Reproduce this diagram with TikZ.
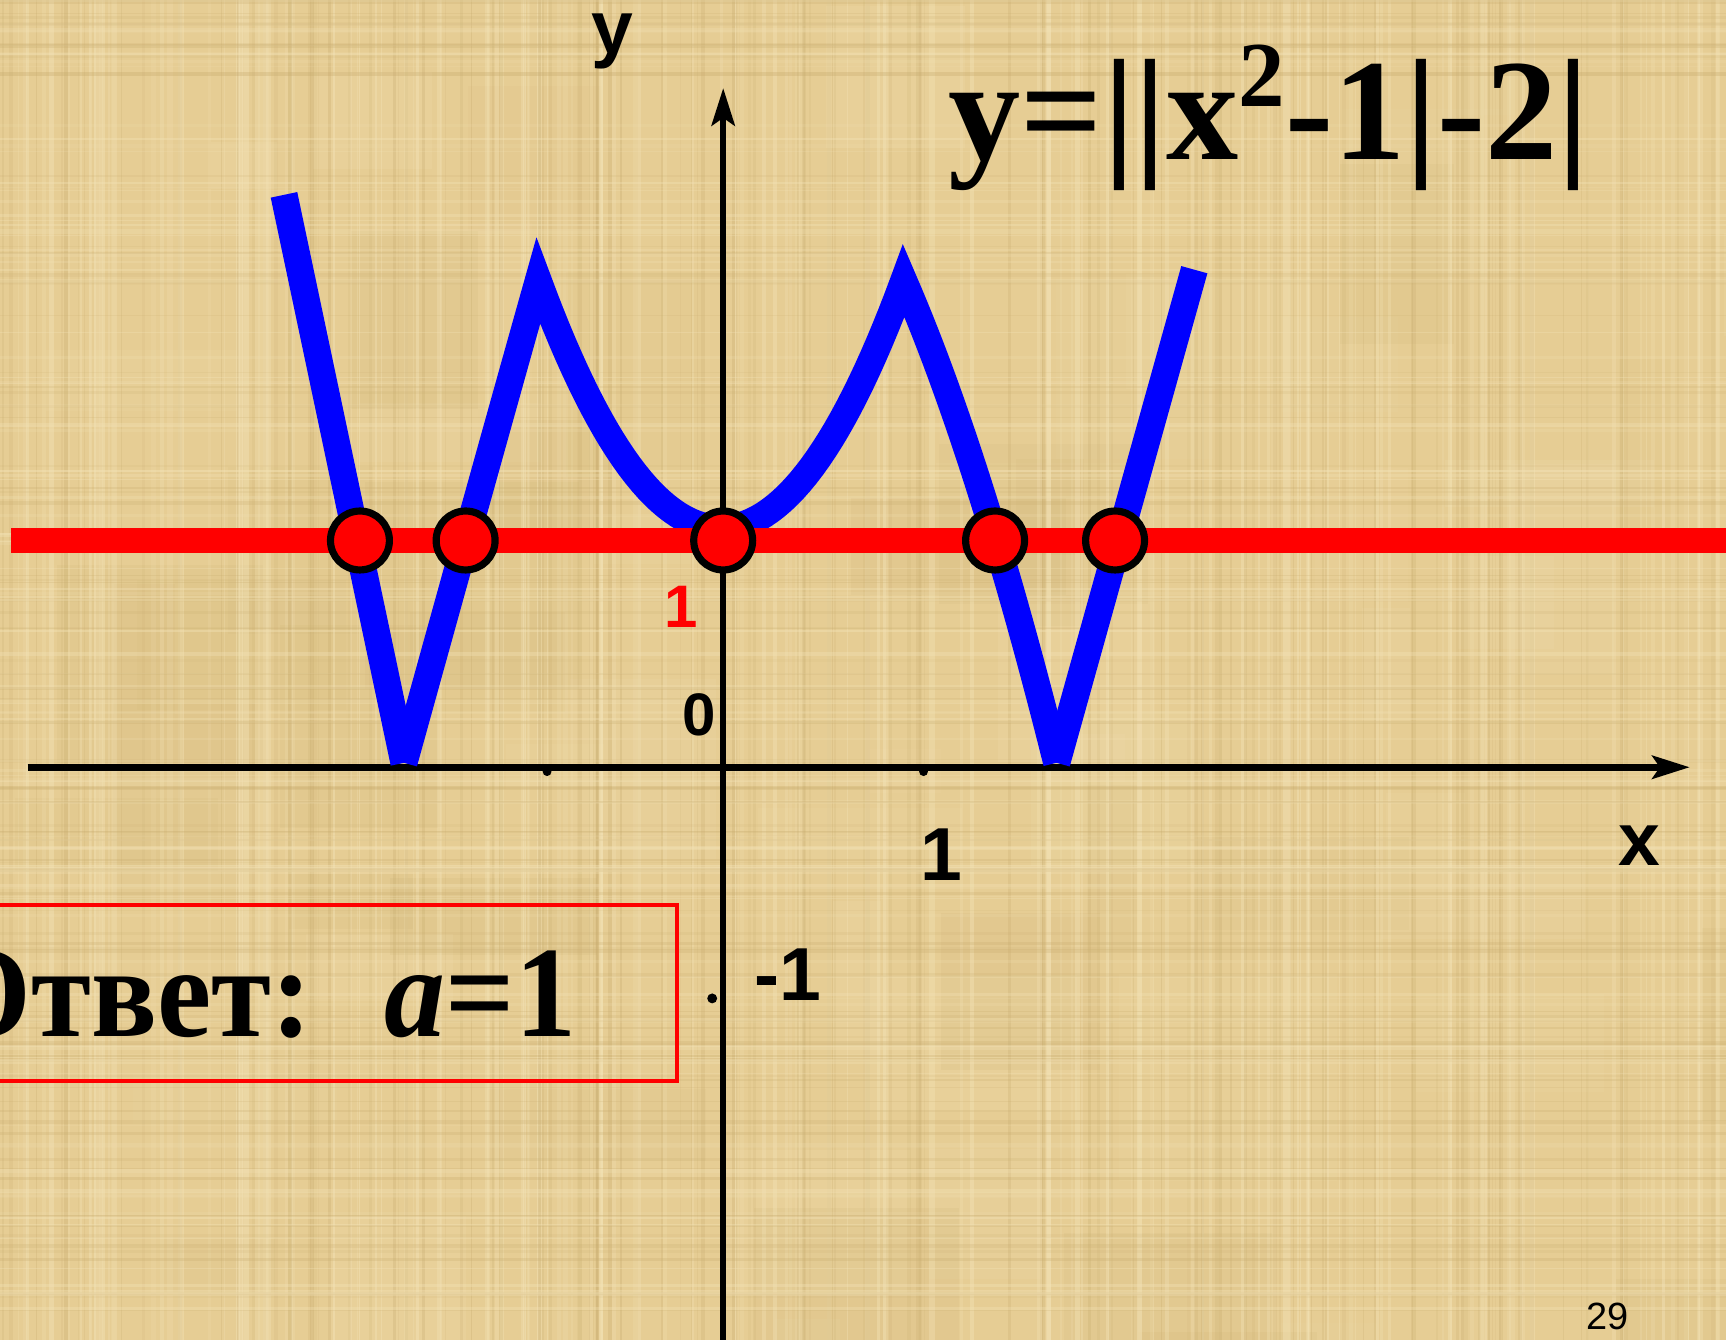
\documentclass[tikz,border=0pt]{standalone}
\usepackage{graphicx}
\usepackage{fontspec}
\setmainfont{Liberation Serif}
\newfontfamily\arialf{Liberation Sans}
\usetikzlibrary{arrows.meta}
\definecolor{parch}{RGB}{230,205,148}
\definecolor{parchL}{RGB}{244,228,184}
\definecolor{parchD}{RGB}{198,170,108}
\definecolor{pblue}{RGB}{0,0,255}
\definecolor{pred}{RGB}{255,0,0}
\tikzset{
  axisline/.style={line width=1.7pt, black},
  axisarrow/.style={-{Stealth[length=0.34cm, width=0.21cm, inset=0.07cm]}},
  bluecurve/.style={line width=7pt, pblue, line cap=butt},
  redline/.style={line width=6.3pt, pred, line cap=butt},
  ptc/.style={circle, fill=pred, draw=black, line width=1.85pt, minimum size=0.535cm, inner sep=0pt},
  lab/.style={inner sep=0pt, anchor=base, font=\arialf\bfseries\fontsize{19.4}{21}\selectfont},
  smalllab/.style={inner sep=0pt, anchor=base, font=\arialf\bfseries\fontsize{15.5}{17}\selectfont},
  tickdot/.style={fill=black}
}
\begin{document}
\begin{tikzpicture}[x=0.01cm, y=-0.01cm]
\useasboundingbox (0,0) rectangle (1568,1217);
\begin{scope}
\clip (0,0) rectangle (1568,1217);
% parchment background
\fill[parch] (0,0) rectangle (1568,1217);
\pgfmathsetseed{4242}
\foreach \i in {1,...,40}{
  \pgfmathsetmacro{\xa}{rnd*1568}
  \pgfmathsetmacro{\ya}{rnd*1217}
  \pgfmathsetmacro{\wa}{40+rnd*160}
  \pgfmathsetmacro{\ha}{40+rnd*160}
  \pgfmathsetmacro{\oa}{0.06+rnd*0.10}
  \fill[parchL, opacity=\oa] (\xa,\ya) rectangle ++(\wa,\ha);
}
\foreach \i in {1,...,30}{
  \pgfmathsetmacro{\xa}{rnd*1568}
  \pgfmathsetmacro{\ya}{rnd*1217}
  \pgfmathsetmacro{\wa}{40+rnd*160}
  \pgfmathsetmacro{\ha}{40+rnd*160}
  \pgfmathsetmacro{\oa}{0.05+rnd*0.08}
  \fill[parchD, opacity=\oa] (\xa,\ya) rectangle ++(\wa,\ha);
}
\foreach \i in {1,...,160}{
  \pgfmathsetmacro{\xx}{rnd*1568}
  \pgfmathsetmacro{\lw}{0.2+rnd*1.2}
  \pgfmathsetmacro{\op}{0.15+rnd*0.3}
  \draw[parchL, line width=\lw pt, opacity=\op] (\xx,0) -- (\xx,1217);
}
\foreach \i in {1,...,120}{
  \pgfmathsetmacro{\xx}{rnd*1568}
  \pgfmathsetmacro{\lw}{0.2+rnd*0.9}
  \pgfmathsetmacro{\op}{0.10+rnd*0.2}
  \draw[parchD, line width=\lw pt, opacity=\op] (\xx,0) -- (\xx,1217);
}
\foreach \i in {1,...,120}{
  \pgfmathsetmacro{\yy}{rnd*1217}
  \pgfmathsetmacro{\lw}{0.2+rnd*1.0}
  \pgfmathsetmacro{\op}{0.12+rnd*0.25}
  \draw[parchL, line width=\lw pt, opacity=\op] (0,\yy) -- (1568,\yy);
}
\foreach \i in {1,...,90}{
  \pgfmathsetmacro{\yy}{rnd*1217}
  \pgfmathsetmacro{\lw}{0.2+rnd*0.8}
  \pgfmathsetmacro{\op}{0.08+rnd*0.18}
  \draw[parchD, line width=\lw pt, opacity=\op] (0,\yy) -- (1568,\yy);
}

% axes
\coordinate (xs) at (25,697);
\coordinate (xe) at (1535,697);
\coordinate (ys) at (657,1230);
\coordinate (ye) at (657,80);
\draw[axisline, axisarrow] (xs) -- (xe);
\draw[axisline, axisarrow] (ys) -- (ye);
\fill[tickdot] (497,701) circle[radius=0.04cm];
\fill[tickdot] (839,701) circle[radius=0.04cm];
\fill[tickdot] (647,907) circle[radius=0.045cm];

% graph y=||x^2-1|-2|
\draw[bluecurve] (258,177) -- (367,693);
\draw[bluecurve, line join=miter]
  plot[domain=-1.732:-1, samples=30, variable=\t] ({489+123.4*(\t+1)-59.2*(\t+1)*(\t+1)},{693-219*(3-\t*\t)})
  -- plot[domain=-1:1, samples=61, variable=\t] ({655+166*\t},{480-225*\t*\t})
  -- plot[domain=1:1.732, samples=30, variable=\t] ({821+189.9*(\t-1)},{693-219*(3-\t*\t)});
\draw[bluecurve] (960,693) -- (1085,245);

% line y = a = 1
\coordinate (rs) at (10,491);
\coordinate (re) at (1580,491);
\draw[redline] (rs) -- (re);

% intersection points
\node[ptc] (p1) at (327,491) {};
\node[ptc] (p2) at (423,491) {};
\node[ptc] (p3) at (657,491) {};
\node[ptc] (p4) at (904,491) {};
\node[ptc] (p5) at (1013,491) {};

% labels
\node[lab] (ylab) at (556,48.5) {y};
\node[lab] (xlab) at (1489,786) {x};
\node[smalllab, text=pred] (lone) at (619,570) {1};
\node[smalllab] (lzero) at (635,668) {0};
\node[lab] (xone) at (855,800) {1};
\node[lab] (ymone) at (716,909) {-1};
\node[inner sep=0pt, anchor=base, font=\arialf\fontsize{9.8}{11}\selectfont] (page) at (1460,1208) {29};

% formula
\node[anchor=base west, inner sep=0pt, font=\bfseries\fontsize{37.3}{40}\selectfont] (formula) at (861,145)
  {y=||x\raisebox{13.6pt}{\fontsize{24}{26}\selectfont 2}-1|-2|};

% answer box
\draw[pred, line width=1.02pt] (-20,822) rectangle (615,982);
\node[anchor=base east, inner sep=0pt] (answer) at (524,942)
  {\scalebox{0.94}[1]{\bfseries\fontsize{33.5}{36}\selectfont Ответ:\hspace{20pt}\textit{a}=1}};
\end{scope}
\end{tikzpicture}
\end{document}
